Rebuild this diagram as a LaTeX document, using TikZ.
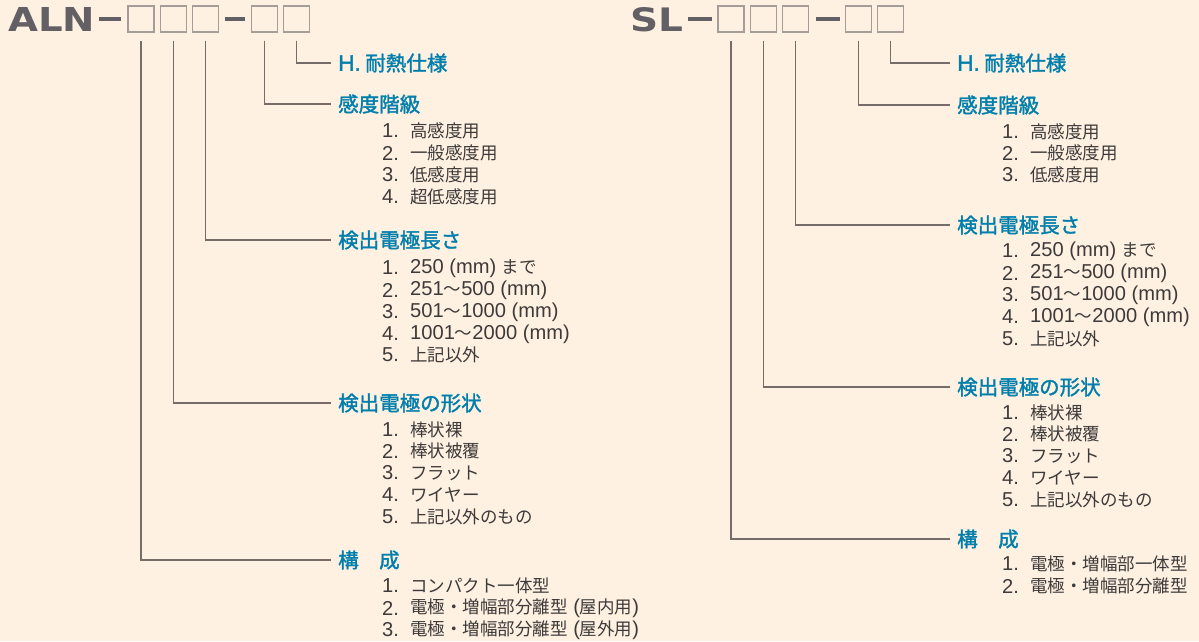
\documentclass[tikz,border=0pt]{standalone}
\usepackage{fontspec}
\setmainfont{Noto Sans CJK JP}
\newfontfamily\headfont{Noto Sans CJK JP}[FakeBold=1.6]
\newfontfamily\latfont{Liberation Sans}[Scale=1.15]
\newfontfamily\headlatfont{Liberation Sans}[Scale=1.1, FakeBold=1.6]
\newfontfamily\titlefont{DejaVu Sans}
\newcommand\lat[1]{{\latfont #1}}
\usetikzlibrary{positioning}
\definecolor{cream}{RGB}{254,241,226}
\definecolor{headblue}{RGB}{0,126,172}
\definecolor{itemgray}{RGB}{62,58,57}
\definecolor{titlegray}{RGB}{98,96,100}
\definecolor{boxgray}{RGB}{165,158,152}
\definecolor{leadgray}{RGB}{118,108,104}
\tikzset{codebox/.style={draw=boxgray, line width=1.2pt, minimum width=26pt, minimum height=26pt, inner sep=0pt},
dashbar/.style={fill=titlegray, minimum width=22pt, minimum height=3.5pt, inner sep=0pt},
titlenode/.style={anchor=south west, inner sep=0pt, text=titlegray}}
\tikzset{heading/.style={anchor=west, inner sep=0pt, text=headblue, font=\fontsize{20.5}{21}\selectfont\headfont},
itemnum/.style={anchor=west, inner sep=0pt, text=itemgray, font=\fontsize{17.5}{18}\selectfont\latfont},
itemtext/.style={anchor=west, inner sep=0pt, text=itemgray, font=\fontsize{17.5}{18}\selectfont},
leader/.style={draw=leadgray, line width=1.2pt}}

\begin{document}
\begin{tikzpicture}[x=1pt, y=-1pt]
        % Background
        \fill[cream] (0, 0) rectangle (1199, 641);
        \useasboundingbox (0, 0) rectangle (1199, 641);
        % ALN code
        \node[codebox] (alnB1) at (141, 19) {};
        \node[codebox, right=5pt of alnB1] (alnB2) {};
        \node[codebox, right=5pt of alnB2] (alnB3) {};
        \node[codebox, right=32pt of alnB3] (alnB4) {};
        \node[codebox, right=5pt of alnB4] (alnB5) {};
        \node[dashbar, left=6pt of alnB1] (alnDash1) {};
        \node[dashbar, minimum width=20pt, right=6pt of alnB3] (alnDash2) {};
        \node[titlenode] (alnTitle) at (8, 32) {\resizebox{87pt}{24pt}{\titlefont\bfseries ALN}};
        % ALN headings
        \node[heading] (alnHeat) at (338, 63) {{\headlatfont H.}\ 耐熱仕様};
        \node[heading] (alnSens) at (338, 104) {感度階級};
        \node[heading] (alnLen) at (338, 240) {検出電極長さ};
        \node[heading] (alnShape) at (338, 403) {検出電極の形状};
        \node[heading] (alnKind) at (338, 560) {構　成};
        % ALN items
        \foreach \n/\y/\itext in {
            1/131/高感度用,
            2/153/一般感度用,
            3/175/低感度用,
            4/197/超低感度用} {
            \node[itemnum] (alnSensN\n) at (382, \y) {\n.};
            \node[itemtext] (alnSens\n) at (410, \y) {\itext};
        }
        \foreach \n/\y/\itext in {
            1/268/\lat{250 (mm) }まで,
            2/290/\lat{251}〜\lat{500 (mm)},
            3/312/\lat{501}〜\lat{1000 (mm)},
            4/334/\lat{1001}〜\lat{2000 (mm)},
            5/355/上記以外} {
            \node[itemnum] (alnLenN\n) at (382, \y) {\n.};
            \node[itemtext] (alnLen\n) at (410, \y) {\itext};
        }
        \foreach \n/\y/\itext in {
            1/430/棒状裸,
            2/451/棒状被覆,
            3/473/フラット,
            4/495/ワイヤー,
            5/517/上記以外のもの} {
            \node[itemnum] (alnShapeN\n) at (382, \y) {\n.};
            \node[itemtext] (alnShape\n) at (410, \y) {\itext};
        }
        \foreach \n/\y/\itext in {
            1/586/コンパクト一体型,
            2/608/電極・増幅部分離型\lat{ (}屋内用\lat{)},
            3/630/電極・増幅部分離型\lat{ (}屋外用\lat{)}} {
            \node[itemnum] (alnKindN\n) at (382, \y) {\n.};
            \node[itemtext] (alnKind\n) at (410, \y) {\itext};
        }
        % ALN leaders
        \draw[leader] ([yshift=-8pt]alnB5.south) |- ([xshift=-7pt]alnHeat.west);
        \draw[leader] ([yshift=-8pt]alnB4.south) |- ([xshift=-7pt]alnSens.west);
        \draw[leader] ([yshift=-8pt]alnB3.south) |- ([xshift=-7pt]alnLen.west);
        \draw[leader] ([yshift=-8pt]alnB2.south) |- ([xshift=-7pt]alnShape.west);
        \draw[leader] ([yshift=-8pt]alnB1.south) |- ([xshift=-7pt]alnKind.west);
        % SL code
        \node[codebox] (slB1) at (731, 19) {};
        \node[codebox, right=5pt of slB1] (slB2) {};
        \node[codebox, right=5pt of slB2] (slB3) {};
        \node[codebox, right=36pt of slB3] (slB4) {};
        \node[codebox, right=5pt of slB4] (slB5) {};
        \node[dashbar, minimum width=24pt, left=5pt of slB1] (slDash1) {};
        \node[dashbar, minimum width=24pt, right=7pt of slB3] (slDash2) {};
        \node[titlenode] (slTitle) at (630, 32) {\resizebox{53pt}{24pt}{\titlefont\bfseries SL}};
        % SL headings
        \node[heading] (slHeat) at (957, 63) {{\headlatfont H.}\ 耐熱仕様};
        \node[heading] (slSens) at (957, 105) {感度階級};
        \node[heading] (slLen) at (957, 225) {検出電極長さ};
        \node[heading] (slShape) at (957, 387) {検出電極の形状};
        \node[heading] (slKind) at (957, 539) {構　成};
        % SL items
        \foreach \n/\y/\itext in {
            1/132/高感度用,
            2/153/一般感度用,
            3/175/低感度用} {
            \node[itemnum] (slSensN\n) at (1002, \y) {\n.};
            \node[itemtext] (slSens\n) at (1030, \y) {\itext};
        }
        \foreach \n/\y/\itext in {
            1/251/\lat{250 (mm) }まで,
            2/273/\lat{251}〜\lat{500 (mm)},
            3/295/\lat{501}〜\lat{1000 (mm)},
            4/317/\lat{1001}〜\lat{2000 (mm)},
            5/339/上記以外} {
            \node[itemnum] (slLenN\n) at (1002, \y) {\n.};
            \node[itemtext] (slLen\n) at (1030, \y) {\itext};
        }
        \foreach \n/\y/\itext in {
            1/413/棒状裸,
            2/434/棒状被覆,
            3/456/フラット,
            4/478/ワイヤー,
            5/500/上記以外のもの} {
            \node[itemnum] (slShapeN\n) at (1002, \y) {\n.};
            \node[itemtext] (slShape\n) at (1030, \y) {\itext};
        }
        \foreach \n/\y/\itext in {
            1/564/電極・増幅部一体型,
            2/586/電極・増幅部分離型} {
            \node[itemnum] (slKindN\n) at (1002, \y) {\n.};
            \node[itemtext] (slKind\n) at (1030, \y) {\itext};
        }
        % SL leaders
        \draw[leader] ([yshift=-8pt]slB5.south) |- ([xshift=-7pt]slHeat.west);
        \draw[leader] ([yshift=-8pt]slB4.south) |- ([xshift=-7pt]slSens.west);
        \draw[leader] ([yshift=-8pt]slB3.south) |- ([xshift=-7pt]slLen.west);
        \draw[leader] ([yshift=-8pt]slB2.south) |- ([xshift=-7pt]slShape.west);
        \draw[leader] ([yshift=-8pt]slB1.south) |- ([xshift=-7pt]slKind.west);
    \end{tikzpicture}
\end{document}
